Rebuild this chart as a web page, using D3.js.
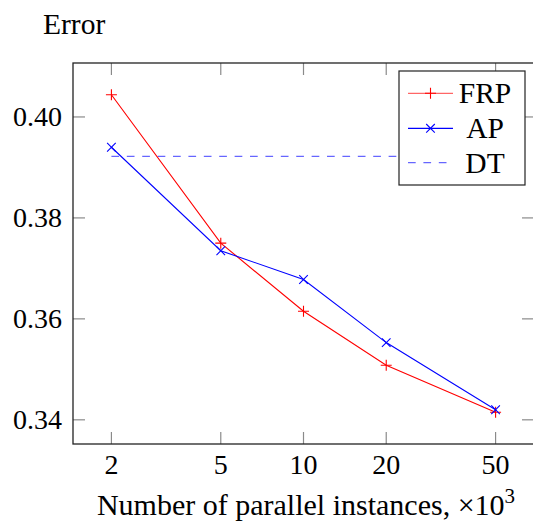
<!DOCTYPE html>
<html>
<head>
<meta charset="utf-8">
<script src="https://d3js.org/d3.v7.min.js"></script>
<style>
  body { margin: 0; background: #fff; }
</style>
</head>
<body>
<svg id="chart" width="533" height="522"></svg>
<script>
// data
const instances = [2, 5, 10, 20, 50];
const frpError = [0.4044, 0.3750, 0.3615, 0.3508, 0.3415];
const apError = [0.3940, 0.3735, 0.3678, 0.3553, 0.3420];
const dtError = 0.3922;
const yTicks = [0.34, 0.36, 0.38, 0.40];
const seriesNames = ["FRP", "AP", "DT"];

const serif = "Liberation Serif";
const fs = 28;
const svg = d3.select("svg#chart");
const plot = { left: 73, top: 63, right: 534, bottom: 444 };

// pgfplots style: enlarge limits by 10%
const lx = d3.extent(instances).map(Math.log10);
const padX = 0.1 * (lx[1] - lx[0]);
const x = d3.scaleLog()
  .domain([Math.pow(10, lx[0] - padX), Math.pow(10, lx[1] + padX)])
  .range([plot.left, plot.right]);

const ey = d3.extent(frpError.concat(apError));
const padY = 0.1 * (ey[1] - ey[0]);
const y = d3.scaleLinear()
  .domain([ey[0] - padY, ey[1] + padY])
  .range([plot.bottom, plot.top]);

const tickLen = 12;
const tickColor = "#8a8a8a";

// ticks, drawn inward on all four sides
let ticks = svg.append("g").attr("stroke", tickColor).attr("stroke-width", 1.2);
instances.forEach(v => {
  ticks.append("line").attr("x1", x(v)).attr("x2", x(v)).attr("y1", plot.bottom).attr("y2", plot.bottom - tickLen);
  ticks.append("line").attr("x1", x(v)).attr("x2", x(v)).attr("y1", plot.top).attr("y2", plot.top + tickLen);
});
yTicks.forEach(v => {
  ticks.append("line").attr("y1", y(v)).attr("y2", y(v)).attr("x1", plot.left).attr("x2", plot.left + tickLen);
  ticks.append("line").attr("y1", y(v)).attr("y2", y(v)).attr("x1", plot.right).attr("x2", plot.right - tickLen);
});

// tick labels
svg.append("g").selectAll("text").data(instances).join("text")
  .attr("x", d => x(d)).attr("y", 473.5)
  .attr("text-anchor", "middle").attr("font-family", serif).attr("font-size", fs)
  .text(d => d);
svg.append("g").selectAll("text").data(yTicks).join("text")
  .attr("x", 62).attr("y", d => y(d) + 9.5)
  .attr("text-anchor", "end").attr("font-family", serif).attr("font-size", fs)
  .text(d => d3.format(".2f")(d));

// DT baseline (dashed)
svg.append("line")
  .attr("x1", x(instances[0])).attr("x2", x(instances[instances.length - 1]))
  .attr("y1", y(dtError)).attr("y2", y(dtError))
  .attr("stroke", "blue").attr("stroke-opacity", 0.6)
  .attr("stroke-width", 1.2).attr("stroke-dasharray", "7.7 7.7");

const line = d3.line().x(d => x(d[0])).y(d => y(d[1]));
const frpPts = instances.map((v, i) => [v, frpError[i]]);
const apPts = instances.map((v, i) => [v, apError[i]]);

function plusMark(g, cx, cy, color) {
  const s = 5.5;
  g.append("path").attr("d", `M${cx - s},${cy}H${cx + s}M${cx},${cy - s}V${cy + s}`)
    .attr("stroke", color).attr("stroke-width", 1.1).attr("fill", "none");
}
function crossMark(g, cx, cy, color) {
  const s = 4.3;
  g.append("path").attr("d", `M${cx - s},${cy - s}L${cx + s},${cy + s}M${cx - s},${cy + s}L${cx + s},${cy - s}`)
    .attr("stroke", color).attr("stroke-width", 1.1).attr("fill", "none");
}

let series = svg.append("g");
series.append("path").datum(frpPts).attr("d", line)
  .attr("fill", "none").attr("stroke", "red").attr("stroke-width", 1.1);
frpPts.forEach(p => plusMark(series, x(p[0]), y(p[1]), "red"));
series.append("path").datum(apPts).attr("d", line)
  .attr("fill", "none").attr("stroke", "blue").attr("stroke-width", 1.1);
apPts.forEach(p => crossMark(series, x(p[0]), y(p[1]), "blue"));

// frame
svg.append("rect")
  .attr("x", plot.left).attr("y", plot.top)
  .attr("width", plot.right - plot.left).attr("height", plot.bottom - plot.top)
  .attr("fill", "none").attr("stroke", "#222").attr("stroke-width", 1.3);

// legend
let legend = svg.append("g").attr("transform", "translate(399,71)");
legend.append("rect").attr("width", 126).attr("height", 114)
  .attr("fill", "white").attr("stroke", "#222").attr("stroke-width", 1.2);
const rowY = [22.3, 57.3, 91.7];
seriesNames.forEach((name, i) => {
  const ry = rowY[i];
  let l = legend.append("line").attr("x1", 9).attr("x2", 54).attr("y1", ry).attr("y2", ry)
    .attr("stroke-width", 1.2);
  if (name === "FRP") { l.attr("stroke", "red").attr("stroke-opacity", 0.6); plusMark(legend, 31.5, ry, "red"); }
  if (name === "AP") { l.attr("stroke", "blue"); crossMark(legend, 31.5, ry, "blue"); }
  if (name === "DT") { l.attr("stroke", "blue").attr("stroke-opacity", 0.6).attr("stroke-dasharray", "7.7 7.7"); }
  legend.append("text").attr("x", 86).attr("y", ry + 10)
    .attr("text-anchor", "middle").attr("font-family", serif).attr("font-size", 29.5).text(name);
});

// axis titles
svg.append("text").attr("x", 43).attr("y", 34).attr("font-family", serif).attr("font-size", 29.5).text("Error");
let xt = svg.append("text").attr("x", 306).attr("y", 514.5)
  .attr("text-anchor", "middle").attr("font-family", serif).attr("font-size", 30);
xt.append("tspan").text("Number of parallel instances, ×10");
xt.append("tspan").attr("dy", -12).attr("font-size", 21).text("3");
</script>
</body>
</html>
